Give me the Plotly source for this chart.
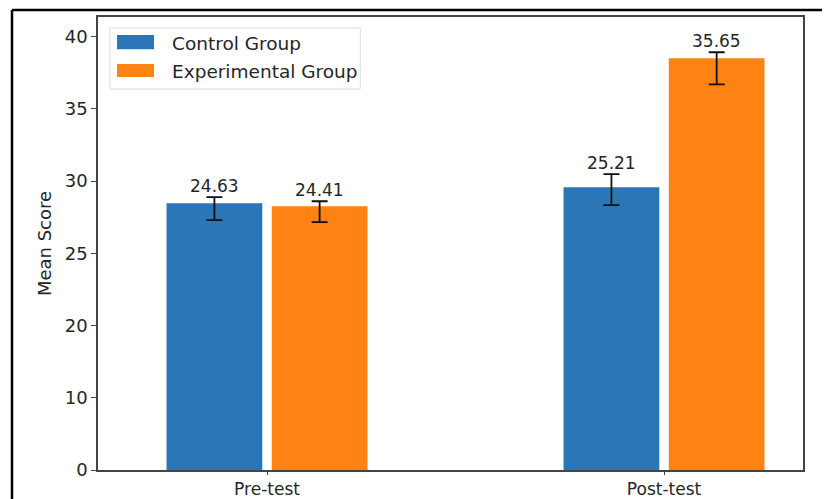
import plotly.graph_objects as go

# ---- data ----
categories = ["Pre-test", "Post-test"]
series_names = ["Control Group", "Experimental Group"]
# bar heights as read against the (non-uniform) y axis
control_height = [28.46, 29.57]
experimental_height = [28.26, 38.49]
# error bar ends as read against the axis
control_err_high = [28.88, 30.47]
control_err_low = [27.29, 28.33]
experimental_err_high = [28.60, 38.91]
experimental_err_low = [27.15, 36.69]
# value labels printed on the chart
control_labels = ["24.63", "25.21"]
experimental_labels = ["24.41", "35.65"]
# y tick labels (equally spaced on the drawn axis)
y_tick_labels = [0, 10, 20, 25, 30, 35, 40]

colors = ["#2b76b6", "#fe8214"]
FONT = "DejaVu Sans"
TXT = "#262626"


def axis_pos(v):
    """Map a score onto the drawn axis, whose ticks 0,10,20,25,30,35,40 are evenly spaced."""
    for i in range(len(y_tick_labels) - 1):
        a, b = y_tick_labels[i], y_tick_labels[i + 1]
        if v <= b or i == len(y_tick_labels) - 2:
            return i + (v - a) / (b - a)


x_idx = list(range(len(categories)))

fig = go.Figure()
series = [
    (series_names[0], control_height, control_err_high, control_err_low, control_labels, colors[0]),
    (series_names[1], experimental_height, experimental_err_high, experimental_err_low, experimental_labels, colors[1]),
]
for name, h, hi, lo, labels, col in series:
    hp = [axis_pos(v) for v in h]
    plus = [axis_pos(a) - b for a, b in zip(hi, hp)]
    minus = [b - axis_pos(a) for a, b in zip(lo, hp)]
    fig.add_trace(go.Bar(
        x=x_idx, y=hp, name=name, marker=dict(color=col, line=dict(width=0)),
        error_y=dict(type="data", symmetric=False, array=plus, arrayminus=minus,
                     color="#111111", thickness=1.8, width=8),
        showlegend=False,
    ))

# value labels above error bars
offsets = [-0.132, 0.133]
for k, (name, h, hi, lo, labels, col) in enumerate(series):
    for i in x_idx:
        fig.add_annotation(
            x=i + offsets[k], y=axis_pos(hi[i]), text=labels[i], showarrow=False,
            yanchor="bottom", xanchor="center", yshift=-1,
            font=dict(family=FONT, size=17, color=TXT),
        )

shapes = []
# outer black frame (image border)
shapes.append(dict(type="line", xref="paper", yref="paper", x0=-0.122, x1=1.1, y0=1.0155, y1=1.0155,
                   line=dict(color="black", width=2.5)))
shapes.append(dict(type="line", xref="paper", yref="paper", x0=-0.122, x1=-0.122, y0=-0.1, y1=1.0155,
                   line=dict(color="black", width=2.5)))
# legend box
shapes.append(dict(type="rect", xref="paper", yref="paper", x0=0.017, x1=0.372, y0=0.841, y1=0.9757,
                   line=dict(color="#dddddd", width=1), fillcolor="rgba(255,255,255,0.85)"))
shapes.append(dict(type="rect", xref="paper", yref="paper", x0=0.027, x1=0.0794, y0=0.929, y1=0.960,
                   line=dict(width=0), fillcolor=colors[0]))
shapes.append(dict(type="rect", xref="paper", yref="paper", x0=0.027, x1=0.0794, y0=0.8675, y1=0.896,
                   line=dict(width=0), fillcolor=colors[1]))
fig.add_annotation(xref="paper", yref="paper", x=0.102, y=0.9426, text=series_names[0], showarrow=False,
                   xanchor="left", yanchor="middle", font=dict(family=FONT, size=18.5, color=TXT))
fig.add_annotation(xref="paper", yref="paper", x=0.102, y=0.8786, text=series_names[1], showarrow=False,
                   xanchor="left", yanchor="middle", font=dict(family=FONT, size=18.5, color=TXT))

fig.update_layout(
    width=822, height=491,
    margin=dict(l=90, r=27, t=9, b=29),
    paper_bgcolor="white", plot_bgcolor="white",
    barmode="group", bargap=0.47, bargroupgap=0.09,
    shapes=shapes,
    font=dict(family=FONT, size=17, color=TXT),
    xaxis=dict(
        tickmode="array", tickvals=x_idx, ticktext=categories, range=[-0.4257, 1.35],
        showgrid=False, zeroline=False, showline=True, linecolor="#444444", linewidth=1.5, mirror=True,
        ticks="outside", ticklen=3, tickcolor="#444444", automargin=False,
        tickfont=dict(family=FONT, size=17, color=TXT),
    ),
    yaxis=dict(
        tickmode="array", tickvals=[axis_pos(v) for v in y_tick_labels], ticktext=[str(v) for v in y_tick_labels],
        range=[0, 6.27], showgrid=False, zeroline=False, showline=True, linecolor="#444444", linewidth=1.5,
        mirror=True, ticks="outside", ticklen=5, tickcolor="#444444", automargin=False,
        tickfont=dict(family=FONT, size=18, color=TXT),
        title=dict(text="Mean Score", standoff=8, font=dict(family=FONT, size=18, color=TXT)),
    ),
)

fig.write_html("out.html")
